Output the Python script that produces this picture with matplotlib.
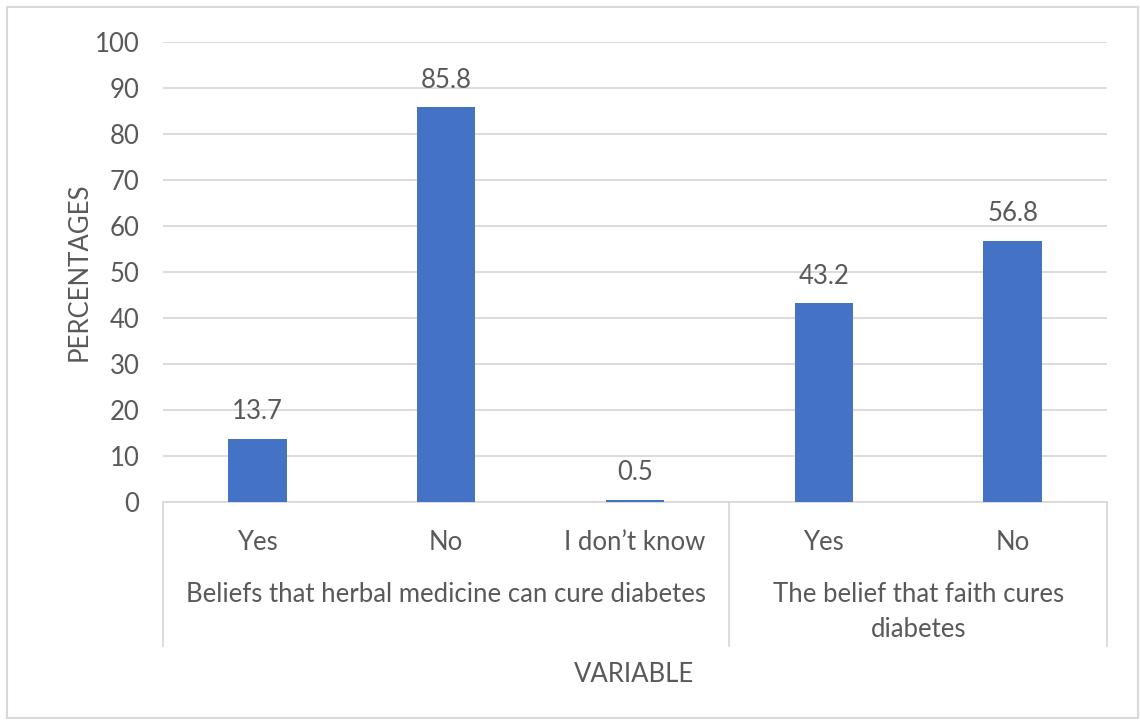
import matplotlib.pyplot as plt
from matplotlib.patches import Rectangle

# data
categories = ["Yes", "No", "I don\u2019t know", "Yes", "No"]
values = [13.7, 85.8, 0.5, 43.2, 56.8]
groups = ["Beliefs that herbal medicine can cure diabetes",
          "The belief that faith cures\ndiabetes"]
group_sizes = [3, 2]

plt.rcParams['font.family'] = ['Lato', 'DejaVu Sans']
txt = '#595959'
grid = '#d9d9d9'
fs = 18.5

fig = plt.figure(figsize=(11.4, 7.25), dpi=100)
fig.add_artist(Rectangle((7 / 1140, 7 / 725), 1131 / 1140, 711 / 725,
                         transform=fig.transFigure, fill=False,
                         edgecolor=grid, linewidth=1.5))

ax = fig.add_axes([163 / 1140, 1 - 502 / 725, 944 / 1140, 460 / 725])
x = list(range(len(values)))
bars = ax.bar(x, values, width=0.31, color='#4472c4', zorder=3)
for b, v in zip(bars, values):
    ax.text(b.get_x() + b.get_width() / 2, v + 3.2, f"{v}", ha='center',
            va='bottom', fontsize=fs, color=txt)

ax.set_ylim(0, 100)
ax.set_xlim(-0.5, len(values) - 0.5)
ax.set_yticks(range(0, 101, 10))
ax.yaxis.grid(True, color=grid, linewidth=1.3, zorder=0)
ax.tick_params(axis='y', length=0, pad=17, labelsize=fs, labelcolor=txt)
ax.set_xticks(x)
ax.set_xticklabels(categories)
ax.tick_params(axis='x', length=0, pad=20, labelsize=fs, labelcolor=txt)
for s in ['top', 'right', 'left']:
    ax.spines[s].set_visible(False)
ax.spines['bottom'].set_color(grid)
ax.spines['bottom'].set_linewidth(1.3)

# group separators and group labels
xt = ax.get_xaxis_transform()
bounds = [-0.5]
for n in group_sizes:
    bounds.append(bounds[-1] + n)
for bx in bounds:
    ax.plot([bx, bx], [0, -0.313], transform=xt, color=grid,
            linewidth=1.3, clip_on=False)
for g, lo, hi in zip(groups, bounds[:-1], bounds[1:]):
    ax.text((lo + hi) / 2, -0.174, g, transform=xt, ha='center', va='top',
            fontsize=fs, color=txt, linespacing=1.5)

ax.set_ylabel("PERCENTAGES", fontsize=fs, color=txt, labelpad=2)
fig.text(634 / 1140, 1 - 675 / 725, "VARIABLE", ha='center', va='center',
         fontsize=fs, color=txt)

fig.savefig("out.png", dpi=100)
